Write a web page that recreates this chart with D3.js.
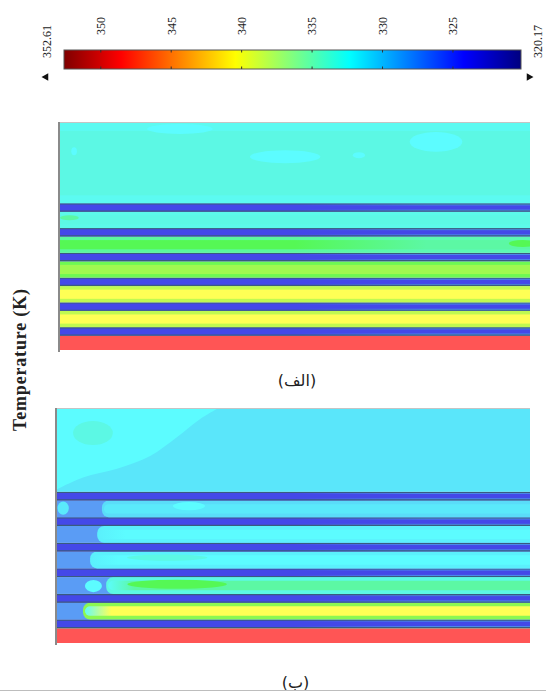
<!DOCTYPE html>
<html>
<head>
<meta charset="utf-8">
<script src="https://cdn.jsdelivr.net/npm/d3@7"></script>
<style>
  body { margin: 0; background: #fff; }
</style>
</head>
<body>
<div id="chart"></div>
<script>
// colour bar
const barRange = [352.61, 320.17];
const barTicks = [350, 345, 340, 335, 330, 325];
const jetTemps = [352.61, 348.55, 340.44, 332.34, 324.23, 320.17];
const jetColors = ['#7f0000', '#ff0000', '#ffff00', '#00ffff', '#0000ff', '#00007f'];

// contour fill levels (the shaded plot is paler than the bar)
const contourTemps = [323.8, 327.8, 329.5, 331.0, 332.3, 334.0, 335.3, 336.5, 338.0, 339.3, 340.4, 344.0, 348.5];
const contourColors = ['#4448e8', '#4a8ae8', '#5a9cf5', '#5ae6fa', '#5cfcff', '#5cf8e4', '#5cf8a4', '#55f855', '#a0f850', '#d4fa52', '#ffff55', '#ffaa55', '#ff5555'];

// layers from the hot wall upwards, thickness in mm
const layerNames = ['wall', 'tube', 'fluid', 'tube', 'fluid', 'tube', 'fluid', 'tube', 'fluid', 'tube', 'fluid', 'tube', 'top'];
const layerThick = [2.9, 1.7, 3.3, 1.7, 3.3, 1.7, 3.3, 1.7, 3.3, 1.7, 3.3, 1.7, 16.2];

// panel (الف)
const coreA    = [348.5, 323.8, 340.4, 323.8, 340.4, 323.8, 338.0, 323.8, 336.5, 323.8, 334.0, 323.8, 334.0];
const coreOutA = [348.5, 323.8, 340.4, 323.8, 340.4, 323.8, 338.0, 323.8, 335.3, 323.8, 334.0, 323.8, 334.0];
const edgeA    = [348.5, 323.8, 338.8, 323.8, 338.8, 323.8, 337.0, 323.8, 335.4, 323.8, 333.7, 323.8, 333.2];
const edgeOutA = [348.5, 327.8, 338.8, 327.8, 338.8, 327.8, 337.0, 327.8, 335.0, 327.8, 333.7, 327.8, 333.2];
const entryA   = [0, 0, 0, 0, 0, 0, 0, 0, 0, 0, 0, 0, 0];
const blobXA  = [0.255, 0.479, 0.636, 0.80, 0.03, 0.02, 0.985];
const blobYA  = [44.6, 39.0, 39.3, 42.0, 40.1, 26.7, 21.5];
const blobRxA = [0.07, 0.075, 0.013, 0.056, 0.006, 0.02, 0.03];
const blobRyA = [1.0, 1.3, 0.6, 2.0, 0.8, 0.5, 0.7];
const blobTA  = [332.3, 332.3, 332.3, 332.3, 332.3, 335.3, 336.5];

// panel (ب)
const coreB    = [348.5, 323.8, 340.4, 323.8, 335.3, 323.8, 332.3, 323.8, 332.3, 323.8, 331.2, 323.8, 331.0];
const coreOutB = [348.5, 323.8, 340.4, 323.8, 335.3, 323.8, 332.3, 323.8, 332.3, 323.8, 331.2, 323.8, 331.0];
const edgeB    = [344.0, 323.8, 337.6, 323.8, 334.0, 323.8, 331.6, 323.8, 331.6, 323.8, 330.8, 323.8, 331.0];
const edgeOutB = [344.0, 327.8, 337.6, 327.8, 334.0, 327.8, 331.6, 327.8, 331.6, 327.8, 330.8, 327.8, 331.0];
const entryB   = [0, 0, 0.055, 0, 0.104, 0, 0.07, 0, 0.085, 0, 0.095, 0, 0];
const inletB   = [348.5, 323.8, 332.3, 323.8, 332.3, 323.8, 331.6, 323.8, 331.6, 323.8, 331.2, 323.8, 331.0];
const entryTempB = 329.5;
const blobXB  = [0.076, 0.077, 0.254, 0.233, 0.279, 0.013];
const blobYB  = [41.1, 11.15, 11.5, 16.7, 26.8, 26.4];
const blobRxB = [0.042, 0.018, 0.105, 0.085, 0.034, 0.012];
const blobRyB = [2.35, 1.2, 0.9, 0.6, 0.8, 1.3];
const blobTB  = [334.0, 332.3, 336.5, 334.0, 332.3, 331.2];
const zoneXB = [0, 0.055, 0.127, 0.197, 0.254, 0.302, 0.338];
const zoneYB = [30.1, 32.4, 34.1, 36.6, 40.3, 43.8, 45.8];
const zoneTempB = 332.3;

const W = 546, H = 692;
const svg = d3.select('#chart').append('svg').attr('width', W).attr('height', H);
const defs = svg.append('defs');
const jet = d3.scaleLinear().domain(jetTemps).range(jetColors);
const contour = d3.scaleLinear().domain(contourTemps).range(contourColors).clamp(true);

// ---- colour bar ----
const barX = d3.scaleLinear().domain(barRange).range([64, 521]);
const barTop = 50, barH = 19;
const jetGrad = defs.append('linearGradient').attr('id', 'jet')
    .attr('gradientUnits', 'userSpaceOnUse')
    .attr('x1', barX(barRange[0])).attr('x2', barX(barRange[1])).attr('y1', 0).attr('y2', 0);
jetGrad.selectAll('stop').data(jetTemps).join('stop')
    .attr('offset', (t) => (t - barRange[0]) / (barRange[1] - barRange[0]))
    .attr('stop-color', (t) => jet(t));
svg.append('rect')
    .attr('x', barX(barRange[0])).attr('y', barTop)
    .attr('width', barX(barRange[1]) - barX(barRange[0])).attr('height', barH)
    .attr('fill', 'url(#jet)').attr('stroke', '#555').attr('stroke-width', 1);
svg.selectAll('.btick').data(barTicks).join('path')
    .attr('d', (t) => `M${barX(t)},${barTop}v2.5M${barX(t)},${barTop + barH}v-2.5`)
    .attr('stroke', '#333').attr('stroke-width', 1);

const barAxis = svg.append('g').attr('transform', 'translate(0,35)')
    .call(d3.axisTop(barX).tickValues(barTicks).tickSize(0).tickFormat(d3.format('d')));
barAxis.select('.domain').remove();
barAxis.selectAll('text')
    .attr('x', 0).attr('y', 0).attr('dy', '0.32em')
    .attr('transform', 'rotate(-90)')
    .style('text-anchor', 'start')
    .style('font-family', '"Liberation Serif", serif').style('font-size', '12px').attr('fill', '#222');

svg.selectAll('.blabel').data(barRange).join('text')
    .attr('transform', (t, i) => `translate(${barX(t) + (i === 0 ? -17 : 17)},58) rotate(-90)`)
    .attr('dy', '0.32em')
    .style('font-family', '"Liberation Serif", serif').style('font-size', '12px').attr('fill', '#222')
    .text((t) => t.toFixed(2));
svg.selectAll('.barrow').data(barRange).join('path')
    .attr('transform', (t, i) => `translate(${barX(t) + (i === 0 ? -18 : 8)},77) rotate(${i === 0 ? -90 : 90})`)
    .attr('d', d3.symbol(d3.symbolTriangle, 26))
    .attr('fill', '#111');

// ---- contour panels ----
const fadeFrom = 0.5, fadeTo = 0.78, devLen = 0.06;

function drawPanel(p, k) {
  const total = d3.sum(layerThick);
  const cum = [0, ...d3.cumsum(layerThick)];
  const x = d3.scaleLinear().domain([0, 1]).range([p.x0, p.x1]);
  const y = d3.scaleLinear().domain([0, total]).range([p.y1, p.y0]);

  defs.append('clipPath').attr('id', 'clip' + k).append('rect')
      .attr('x', p.x0).attr('y', p.y0).attr('width', p.x1 - p.x0).attr('height', p.y1 - p.y0);
  const g = svg.append('g').attr('clip-path', `url(#clip${k})`);

  function grad(id, stops) {
    const lg = defs.append('linearGradient').attr('id', id)
        .attr('gradientUnits', 'userSpaceOnUse')
        .attr('x1', p.x0).attr('x2', p.x1).attr('y1', 0).attr('y2', 0);
    lg.selectAll('stop').data(stops).join('stop')
        .attr('offset', (d) => d[0]).attr('stop-color', (d) => contour(d[1]));
    return `url(#${id})`;
  }

  layerThick.forEach((th, i) => {
    const yt = y(cum[i + 1]), yb = y(cum[i]);
    const e0 = p.entry[i];
    const edgeFill = grad(`e${k}_${i}`, [[0, p.edge[i]], [fadeFrom, p.edge[i]], [fadeTo, p.edgeOut[i]], [1, p.edgeOut[i]]]);
    const coreFill = grad(`c${k}_${i}`, [[e0, p.inlet[i]], [e0 + (e0 > 0 ? devLen : 0), p.core[i]],
      [fadeFrom, p.core[i]], [fadeTo, p.coreOut[i]], [1, p.coreOut[i]]]);
    let ins = (layerNames[i] === 'tube' ? 0.25 : 0.22) * Math.min(th, 7.3);
    if (layerNames[i] === 'wall') ins = 0.12;
    const insPx = yb - y(cum[i] + ins);

    if (e0 > 0) {
      g.append('rect').attr('x', p.x0).attr('y', yt).attr('width', p.x1 - p.x0).attr('height', yb - yt)
          .attr('fill', contour(p.entryTemp));
    }
    g.append('rect')
        .attr('x', x(e0)).attr('y', yt).attr('width', p.x1 - x(e0) + 10).attr('height', yb - yt)
        .attr('rx', e0 > 0 ? 7 : 0)
        .attr('fill', edgeFill);
    g.append('rect')
        .attr('x', x(e0) + (e0 > 0 ? 2 : -1))
        .attr('y', layerNames[i] === 'wall' ? yt + insPx : yt + insPx)
        .attr('width', p.x1 - x(e0) + 10)
        .attr('height', Math.max(0, yb - yt - (layerNames[i] === 'wall' ? insPx : 2 * insPx) + (layerNames[i] === 'wall' ? 2 : 0)))
        .attr('rx', e0 > 0 ? 5 : 0)
        .attr('fill', coreFill);

    if (layerNames[i] === 'tube') {
      g.append('path')
          .attr('d', `M${p.x0},${yt + 0.6}H${p.x1}M${p.x0},${yb - 0.6}H${p.x1}`)
          .attr('stroke', '#3a5a80').attr('stroke-width', 1.2).attr('fill', 'none');
    }
  });

  if (p.zoneX) {
    const pts = p.zoneX.map((v, j) => [v, p.zoneY[j]]);
    const line = d3.line().x((d) => x(d[0])).y((d) => y(d[1])).curve(d3.curveCatmullRom);
    g.append('path')
        .attr('d', line(pts) + `L${x(pts[pts.length - 1][0])},${p.y0 - 2}L${p.x0 - 2},${p.y0 - 2}L${p.x0 - 2},${y(pts[0][1])}Z`)
        .attr('fill', contour(p.zoneTemp));
  }

  g.selectAll('.blob').data(p.blobX).join('ellipse')
      .attr('cx', (d) => x(d))
      .attr('cy', (d, j) => y(p.blobY[j]))
      .attr('rx', (d, j) => x(p.blobRx[j]) - x(0))
      .attr('ry', (d, j) => y(0) - y(p.blobRy[j]))
      .attr('fill', (d, j) => contour(p.blobT[j]));

  // frame: dark left edge, light top edge
  svg.append('line').attr('x1', p.x0 - 1).attr('x2', p.x0 - 1).attr('y1', p.y0 - 1).attr('y2', p.y1 + 2)
      .attr('stroke', '#8a8a8a').attr('stroke-width', 2);
  svg.append('line').attr('x1', p.x0).attr('x2', p.x1).attr('y1', p.y0 - 0.5).attr('y2', p.y0 - 0.5)
      .attr('stroke', '#c4c4c4').attr('stroke-width', 1);

  svg.append('text')
      .attr('x', (p.x0 + p.x1) / 2 + 2).attr('y', p.labelY)
      .attr('text-anchor', 'middle')
      .style('font-family', '"DejaVu Sans", sans-serif').style('font-size', '16px').attr('fill', '#222')
      .text(p.label);
}

drawPanel({
  x0: 60, x1: 530, y0: 123, y1: 350, labelY: 386, label: '(الف)',
  core: coreA, coreOut: coreOutA, edge: edgeA, edgeOut: edgeOutA, entry: entryA, inlet: coreA,
  blobX: blobXA, blobY: blobYA, blobRx: blobRxA, blobRy: blobRyA, blobT: blobTA,
}, 'A');

drawPanel({
  x0: 57, x1: 530, y0: 409, y1: 643, labelY: 688, label: '(ب)',
  core: coreB, coreOut: coreOutB, edge: edgeB, edgeOut: edgeOutB, entry: entryB, inlet: inletB, entryTemp: entryTempB,
  blobX: blobXB, blobY: blobYB, blobRx: blobRxB, blobRy: blobRyB, blobT: blobTB,
  zoneX: zoneXB, zoneY: zoneYB, zoneTemp: zoneTempB,
}, 'B');

svg.append('text')
    .attr('transform', 'translate(26,360) rotate(-90)')
    .attr('text-anchor', 'middle')
    .attr('textLength', 142).attr('lengthAdjust', 'spacing')
    .style('font-family', '"Liberation Serif", serif').style('font-size', '18px').style('font-weight', 'bold')
    .attr('fill', '#222')
    .text('Temperature (K)');

svg.append('line').attr('x1', 0).attr('x2', W).attr('y1', 690.5).attr('y2', 690.5)
    .attr('stroke', '#bdbdbd').attr('stroke-width', 1);
</script>
</body>
</html>
